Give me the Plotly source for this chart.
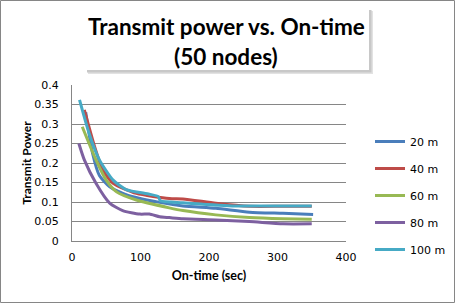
import plotly.graph_objects as go

series_names = ["20 m", "40 m", "60 m", "80 m", "100 m"]
colors = ["#4A7EBB", "#BE4B48", "#98B954", "#7D60A0", "#46AAC5"]

x_20 = [20, 30, 40, 55, 80, 128, 162, 210, 259, 308, 352]
y_20 = [0.33, 0.225, 0.168, 0.139, 0.118, 0.099, 0.09, 0.084, 0.074, 0.071, 0.068]

x_40 = [18, 33, 45, 60, 94, 142, 162, 210, 259, 308, 350]
y_40 = [0.336, 0.242, 0.182, 0.148, 0.122, 0.109, 0.108, 0.097, 0.089, 0.089, 0.089]

x_60 = [15, 35, 50, 65, 94, 142, 162, 210, 259, 308, 350]
y_60 = [0.293, 0.208, 0.156, 0.126, 0.105, 0.085, 0.078, 0.067, 0.060, 0.057, 0.056]

x_80 = [10, 18, 35, 55, 74, 99, 113, 128, 142, 162, 210, 259, 308, 350]
y_80 = [0.25, 0.208, 0.148, 0.097, 0.078, 0.069, 0.069, 0.062, 0.060, 0.057, 0.054, 0.05, 0.044, 0.044]

x_100 = [11, 25, 40, 60, 79, 113, 126, 129, 162, 234, 350]
y_100 = [0.362, 0.276, 0.208, 0.156, 0.132, 0.12, 0.114, 0.103, 0.098, 0.09, 0.09]

xs = [x_20, x_40, x_60, x_80, x_100]
ys = [y_20, y_40, y_60, y_80, y_100]

W, H = 455, 303
L, R, T, B = 72, 346, 85, 241

def px(xp):
    return (xp - L) / (R - L)

def py(yp):
    return (B - yp) / (B - T)

fig = go.Figure()
for i, name in enumerate(series_names):
    fig.add_trace(go.Scatter(
        x=xs[i], y=ys[i], name=name, mode="lines",
        line=dict(color=colors[i], width=3, shape="spline", smoothing=0.6),
        legendgroup=name,
    ))

tickfont = dict(family="DejaVu Sans", size=11, color="#000")

fig.update_layout(
    width=W, height=H,
    margin=dict(l=L, r=W - R, t=T, b=H - B, pad=0, autoexpand=False),
    paper_bgcolor="white", plot_bgcolor="white",
    showlegend=True,
    legend=dict(x=px(370), y=py(127), xanchor="left", yanchor="top",
                font=tickfont, tracegroupgap=8, bgcolor="rgba(0,0,0,0)"),
    xaxis=dict(range=[0, 400], dtick=100, showgrid=False, zeroline=False, automargin=False,
               showline=True, linecolor="#868686", linewidth=1,
               ticks="outside", ticklen=6, tickcolor="rgba(0,0,0,0)", tickfont=tickfont,
               title=dict(text="<b>On-time (sec)</b>", font=dict(family="Lato", size=12.5, color="#000"), standoff=8)),
    yaxis=dict(range=[0, 0.4], dtick=0.05, showgrid=True, gridcolor="#868686", gridwidth=1,
               zeroline=False, showline=True, linecolor="#868686", linewidth=1, automargin=False,
               ticks="outside", ticklen=10, tickcolor="rgba(0,0,0,0)", tickfont=tickfont,
               title=dict(text="<b>Transmit Power</b>", font=dict(family="Lato", size=12, color="#000"), standoff=0)),
)

shapes = [
    dict(type="rect", xref="paper", yref="paper",
         x0=px(0.5), x1=px(454.5), y0=py(302.5), y1=py(0.5),
         line=dict(color="#868686", width=1), fillcolor="rgba(0,0,0,0)", layer="below"),
    dict(type="rect", xref="paper", yref="paper",
         x0=px(88), x1=px(373), y0=py(74), y1=py(11),
         line=dict(width=0), fillcolor="#E2E2E2", layer="below"),
    dict(type="rect", xref="paper", yref="paper",
         x0=px(87), x1=px(371.5), y0=py(72.5), y1=py(10),
         line=dict(width=0), fillcolor="#C8C8C8", layer="below"),
    dict(type="rect", xref="paper", yref="paper",
         x0=px(85), x1=px(369), y0=py(70), y1=py(8),
         line=dict(width=0), fillcolor="white", layer="below"),
]
fig.update_layout(shapes=shapes)

fig.add_annotation(xref="paper", yref="paper", x=px(226), y=py(26),
                   text="<b>Transmit power vs. On-time</b>", showarrow=False,
                   font=dict(family="Lato", size=22.5, color="#000"), xanchor="center", yanchor="middle")
fig.add_annotation(xref="paper", yref="paper", x=px(226), y=py(56),
                   text="<b>(50 nodes)</b>", showarrow=False,
                   font=dict(family="Lato", size=22.5, color="#000"), xanchor="center", yanchor="middle")

fig.write_html("out.html", config={"displayModeBar": False},
               post_script="document.body.style.margin='0';document.body.style.padding='0';")
